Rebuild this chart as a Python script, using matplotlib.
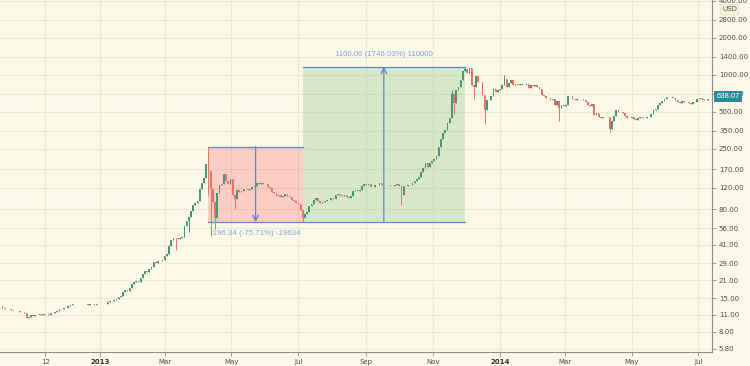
import numpy as np
import pandas as pd
import matplotlib
matplotlib.use('Agg')
import matplotlib.pyplot as plt
import matplotlib.dates as mdates
from matplotlib.patches import Rectangle
from matplotlib.ticker import FixedLocator, NullLocator, FuncFormatter

# closing prices, one value every second day starting 2012-10-02
close_oct12 = [13.0, 12.6, 12.4, 12.2, 12.3, 12.0, 11.9, 11.8, 11.9, 11.7, 11.6, 11.4, 10.4, 10.6, 10.9]
close_nov12 = [10.8, 10.9, 11.0, 11.1, 11.0, 11.1, 11.2, 11.0, 11.3, 11.4, 11.6, 11.8, 12.2, 12.3, 12.5]
close_dec12 = [12.6, 13.0, 13.3, 13.4, 13.5, 13.4, 13.6, 13.5, 13.4, 13.5, 13.3, 13.4, 13.5, 13.3, 13.4, 13.5]
close_jan13 = [13.4, 13.5, 13.6, 13.9, 14.2, 14.3, 14.5, 14.8, 15.5, 15.8, 16.8, 17.4, 17.3, 18.2, 19.6]
close_feb13 = [20.4, 20.6, 20.4, 22.2, 23.8, 25.1, 24.8, 26.0, 26.9, 29.5, 29.4, 30.0, 30.5, 31.0]
close_mar13 = [33.5, 34.5, 40.2, 44.6, 47.0, 46.6, 46.0, 46.9, 47.2, 58.0, 64.0, 69.0, 78.0, 86.0, 90.0, 93.0]
close_apr13 = [117, 132, 143, 187, 165, 118, 92, 68, 108, 126, 128, 154, 137, 128, 140]
close_may13 = [105, 97, 115, 111, 112, 117, 117, 114, 118, 122, 123, 131, 128, 131, 128]
close_jun13 = [129, 122, 120, 110, 108, 103, 104, 100, 103, 107, 103, 101, 96, 93, 90]
close_jul13 = [88, 79, 68, 73, 76, 85, 89, 96, 98, 94, 90, 91, 94, 96, 95, 98]
close_aug13 = [97, 104, 107, 105, 103, 104, 100, 99, 102, 113, 114, 112, 115, 123, 129]
close_sep13 = [127, 129, 121, 121, 125, 127, 130, 127, 126, 126, 126, 124, 124, 126, 128]
close_oct13 = [124, 104, 123, 124, 125, 127, 131, 135, 140, 147, 160, 175, 190, 178, 190, 198]
close_nov13 = [205, 216, 257, 300, 335, 355, 405, 440, 703, 590, 750, 800, 910, 1080, 1120]
close_dec13 = [1030, 1130, 830, 790, 970, 880, 880, 690, 520, 620, 620, 670, 760, 720, 750]
close_jan14 = [770, 820, 930, 800, 850, 900, 830, 840, 820, 840, 830, 820, 840, 780, 820, 810]
close_feb14 = [820, 800, 760, 680, 670, 650, 650, 620, 630, 570, 610, 540, 570, 560]
close_mar14 = [565, 670, 670, 630, 620, 630, 640, 630, 620, 600, 570, 560, 580, 470, 490]
close_apr14 = [450, 440, 450, 450, 450, 360, 420, 460, 520, 500, 500, 490, 460, 440, 445]
close_may14 = [450, 435, 430, 440, 450, 440, 445, 450, 450, 480, 520, 525, 570, 585, 610, 630]
close_jun14 = [665, 655, 655, 650, 620, 595, 590, 610, 595, 595, 590, 580, 595, 600, 640]
close_jul14 = [645, 630, 625, 625, 638.07]

# wick extremes
low_dates = ['2013-03-11', '2013-03-23', '2013-04-10', '2013-04-12', '2013-04-16', '2013-05-04',
             '2013-07-05', '2013-10-03', '2013-11-20', '2013-12-08', '2013-12-18', '2014-02-24', '2014-04-11']
low_vals = [37, 52, 105, 48, 55, 80, 63.0, 86, 480, 640, 400, 420, 340]
high_dates = ['2013-04-10', '2013-11-18', '2013-11-30', '2014-01-05']
high_vals = [259.34, 755, 1163.0, 1000]

y_ticks = [5.8, 8, 11, 15, 21, 29, 41, 56, 80, 120, 170, 250, 350, 500, 700, 1000, 1400, 2000, 2800, 4000]
x_tick_dates = ['2012-11-12', '2013-01-01', '2013-03-01', '2013-05-01', '2013-07-01', '2013-09-01',
                '2013-11-01', '2014-01-01', '2014-03-01', '2014-05-01', '2014-07-01']
x_tick_labels = ['12', '2013', 'Mar', 'May', 'Jul', 'Sep', 'Nov', '2014', 'Mar', 'May', 'Jul']

closes = np.array(close_oct12 + close_nov12 + close_dec12 + close_jan13 + close_feb13 + close_mar13 +
                  close_apr13 + close_may13 + close_jun13 + close_jul13 + close_aug13 + close_sep13 +
                  close_oct13 + close_nov13 + close_dec13 + close_jan14 + close_feb14 + close_mar14 +
                  close_apr14 + close_may14 + close_jun14 + close_jul14, dtype=float)
dates = pd.date_range('2012-10-02', periods=len(closes), freq='2D')
opens = np.concatenate([[closes[0]], closes[:-1]])
highs = np.maximum(opens, closes)
lows = np.minimum(opens, closes)
for d, v in zip(low_dates, low_vals):
    i = dates.get_indexer([pd.Timestamp(d)], method='nearest')[0]
    lows[i] = v
for d, v in zip(high_dates, high_vals):
    i = dates.get_indexer([pd.Timestamp(d)], method='nearest')[0]
    highs[i] = v

bg = '#fdf9e9'
up_col = '#4f927a'
down_col = '#e27666'
blue = '#5a86cc'
text_blue = '#7ba5d8'

fig = plt.figure(figsize=(7.5, 3.66), dpi=100, facecolor=bg)
ax = fig.add_axes([0, 14 / 366, 712 / 750, 352 / 366])
ax.set_facecolor(bg)
plt.rcParams['font.family'] = ['Liberation Sans', 'DejaVu Sans']

xd = mdates.date2num(dates)
cols = [up_col if c >= o else down_col for o, c in zip(opens, closes)]

# measuring boxes
t_a = mdates.date2num(pd.Timestamp('2013-04-10'))
t_b = mdates.date2num(pd.Timestamp('2013-07-05'))
t_c = mdates.date2num(pd.Timestamp('2013-11-30'))
top1 = highs[dates.get_indexer([pd.Timestamp('2013-04-10')])[0]]
bottom = lows[dates.get_indexer([pd.Timestamp('2013-07-05')])[0]]
top2 = highs[dates.get_indexer([pd.Timestamp('2013-11-30')])[0]]

ax.add_patch(Rectangle((t_a, bottom), t_b - t_a, top1 - bottom, fc=(242/255, 54/255, 69/255, 0.22), ec='none', zorder=1))
ax.add_patch(Rectangle((t_b, bottom), t_c - t_b, top2 - bottom, fc=(76/255, 175/255, 80/255, 0.22), ec='none', zorder=1))
ax.plot([t_a, t_b], [top1, top1], color=blue, lw=0.9, zorder=2)
ax.plot([t_b, t_c], [top2, top2], color=blue, lw=0.9, zorder=2)
ax.plot([t_a, t_c], [bottom, bottom], color=blue, lw=0.9, zorder=2)
m1 = (t_a + t_b) / 2
m2 = (t_b + t_c) / 2
ax.annotate('', xy=(m1, bottom), xytext=(m1, top1),
            arrowprops=dict(arrowstyle='->', color=blue, lw=0.9, shrinkA=0, shrinkB=0), zorder=2)
ax.annotate('', xy=(m2, top2), xytext=(m2, bottom),
            arrowprops=dict(arrowstyle='->', color=blue, lw=0.9, shrinkA=0, shrinkB=0), zorder=2)

d1 = bottom - top1
d2 = top2 - bottom
ax.annotate(f'{d1:.2f} ({d1 / top1 * 100:.2f}%) {d1 * 100:.0f}', xy=(m1, bottom), xytext=(0, -8.5),
            textcoords='offset points', ha='center', va='center', color=text_blue, fontsize=5.7, zorder=2)
ax.annotate(f'{d2:.2f} ({d2 / bottom * 100:.2f}%) {d2 * 100:.0f}', xy=(m2, top2), xytext=(0, 8.5),
            textcoords='offset points', ha='center', va='center', color=text_blue, fontsize=5.7, zorder=2)

# candles
ax.vlines(xd, lows, highs, colors=cols, lw=0.7, zorder=3)
ax.bar(xd, np.abs(closes - opens), bottom=np.minimum(opens, closes), width=1.5,
       color=cols, linewidth=0, zorder=3)

ax.set_yscale('log')
ax.set_ylim(5.48, 4074)
ax.set_xlim(mdates.date2num(pd.Timestamp('2013-01-01')) - 91.2,
            mdates.date2num(pd.Timestamp('2013-01-01')) + 558.4)

ax.yaxis.tick_right()
ax.yaxis.set_major_locator(FixedLocator(y_ticks))
ax.yaxis.set_minor_locator(NullLocator())
ax.yaxis.set_major_formatter(FuncFormatter(lambda v, p: f'{v:.2f}'))
ax.xaxis.set_major_locator(FixedLocator(mdates.date2num(pd.to_datetime(x_tick_dates))))
ax.xaxis.set_major_formatter(FuncFormatter(lambda v, p: x_tick_labels[p] if p is not None and p < len(x_tick_labels) else ''))
ax.xaxis.set_minor_locator(NullLocator())
ax.tick_params(axis='both', labelsize=5, colors='#8a8a8a', labelcolor='#4d4d4d', length=3, width=0.6, pad=2)
for lbl in ax.get_xticklabels():
    if lbl.get_text() in ('2013', '2014'):
        lbl.set_fontweight('bold')
        lbl.set_color('#333333')

ax.grid(True, color='#efe9d3', lw=0.8, zorder=0)
ax.set_axisbelow(True)
for s in ['top', 'left']:
    ax.spines[s].set_visible(False)
for s in ['right', 'bottom']:
    ax.spines[s].set_color('#8f8f8f')
    ax.spines[s].set_linewidth(0.8)

# last price label and currency
ax.annotate(f'{closes[-1]:.2f}', xy=(1.0, closes[-1]), xycoords=('axes fraction', 'data'),
            xytext=(3, 1.5), textcoords='offset points', ha='left', va='center', color='white', fontsize=5.5,
            bbox=dict(boxstyle='square,pad=0.3', fc='#2b8b9b', ec='none'), zorder=5)
ax.text(1.025, 0.972, 'USD', transform=ax.transAxes, ha='center', va='center', fontsize=5, color='#4d4d4d',
        bbox=dict(boxstyle='round,pad=0.25', fc='#f6f1dd', ec='#e2ddca', lw=0.5))

fig.savefig('out.png', dpi=100, facecolor=bg)
